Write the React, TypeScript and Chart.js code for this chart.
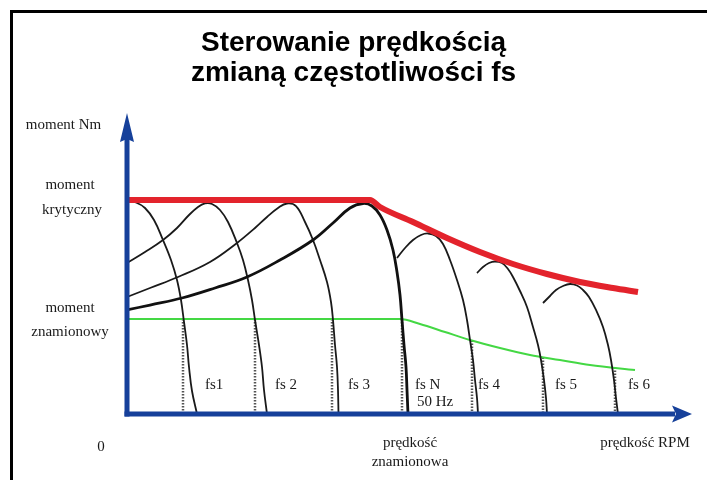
import React, { useEffect, useRef } from 'react';
import { Chart, registerables } from 'chart.js';

Chart.register(...registerables);

// ---------- texts ----------
const TITLE_LINES = ['Sterowanie prędkością', 'zmianą częstotliwości fs'];
const Y_AXIS_TITLE = 'moment Nm';
const BREAKDOWN_LABEL = ['moment', 'krytyczny'];
const RATED_LABEL = ['moment', 'znamionowy'];
const ORIGIN_LABEL = '0';
const RATED_SPEED_LABEL = ['prędkość', 'znamionowa'];
const X_AXIS_TITLE = 'prędkość RPM';
const FREQ_LABELS = ['fs1', 'fs 2', 'fs 3', 'fs N', 'fs 4', 'fs 5', 'fs 6'];
const NOMINAL_FREQ_LABEL = '50 Hz';

// ---------- data (speed and torque in arbitrary axis units) ----------
const breakdownSpeed = [0, 48.6, 50.6, 57.2, 64, 70.6, 77.2, 84, 90.6, 97.2, 102.2];
const breakdownTorque = [71.33, 71.33, 69, 64, 58.67, 54, 50, 46.67, 44, 42, 40.67];

const ratedSpeed = [0, 54.6, 58.6, 63.6, 68.6, 74.6, 80.6, 86.6, 92.6, 101.6];
const ratedTorque = [31.67, 31.67, 30, 27.33, 24.67, 22, 19.67, 18, 16.33, 14.67];

const fs1Speed = [0, 1.8, 3.6, 5.4, 7.2, 8.8, 10, 10.8, 11.4, 12, 12.4, 13, 14];
const fs1Torque = [71, 70.5, 68.67, 64.67, 58, 51.33, 44.67, 38, 30.67, 23, 15.67, 7.67, 0];

const fs2Speed = [0, 3.6, 7.2, 10, 12.4, 14.2, 15.6, 17, 18.6, 20.2, 22, 23.2, 24.2, 25, 25.6, 26.4, 27, 27.4, 28];
const fs2Torque = [50.33, 54, 58, 62, 66.33, 69, 70.17, 70, 68, 64, 57, 51.33, 44.67, 38, 31.33, 23, 15.67, 8, 0];

const fs3Speed = [0, 4.6, 10.2, 16.6, 22, 25.6, 28, 30.2, 32, 33.8, 35.6, 37.2, 38.6, 40, 40.8, 41.2, 41.6, 42, 42.2, 42.3];
const fs3Torque = [39, 42, 45.67, 50.67, 57, 62, 65.67, 68.67, 70.17, 69.33, 64, 58, 51.33, 44, 37.33, 31.33, 23, 15.67, 8, 0];

const fsNSpeed = [0, 4.6, 11, 17.6, 24, 30.6, 37.2, 41.2, 44.6, 47.2, 49, 50.6, 52, 53.2, 54, 54.6, 55, 55.4, 55.8, 56, 56.2];
const fsNTorque = [34.67, 36.33, 38.67, 42, 45.67, 51.33, 58, 63.67, 68.67, 70.17, 69.33, 66.33, 61.33, 54.67, 47.33, 39.67, 31.33, 23, 15.67, 8, 0];

const fs4Speed = [54, 55.6, 57.2, 58.8, 60.2, 61.8, 63.2, 64.6, 66, 67.2, 68, 68.6, 69.2, 69.6, 70, 70.2];
const fs4Torque = [52, 55.33, 58, 59.67, 60.17, 59.33, 56.67, 51.33, 44.67, 38, 31.33, 24.67, 18, 11.33, 5.33, 0];

const fs5Speed = [70, 71.2, 72.4, 73.6, 75, 76.2, 77.2, 78.6, 80, 81.2, 82.2, 82.8, 83.4, 83.8, 84];
const fs5Torque = [47, 49, 50.33, 50.83, 50.33, 48.33, 45.67, 41, 35.67, 29, 23, 18, 11.33, 5.33, 0];

const fs6Speed = [83.2, 84.6, 85.8, 87.2, 88.6, 90, 91.2, 92.4, 93.8, 95.2, 96.2, 96.8, 97.4, 97.8, 98.2];
const fs6Torque = [37, 39.33, 41.33, 42.67, 43.33, 42.83, 41.33, 39, 34.67, 29, 23, 18, 11.33, 5.33, 0];

// rated-torque operating points (where each curve meets the rated torque line)
const operatingSpeed = [11.2, 25.6, 41, 55, 69, 83.2, 97.6];
const operatingTorque = [31.67, 31.67, 31.67, 31.67, 24.5, 18.83, 15.5];

// ---------- layout / style ----------
const W = 707;
const H = 480;
const X_MIN = -25.4;
const X_MAX = 116;
const Y_MAX = 100.3333;
const X_ARROW_END = 113;
const AXIS_COLOR = '#16409a';
const TEXT_COLOR = '#1a1a1a';
const SERIF = '15px "Liberation Serif", "Times New Roman", serif';
const FREQ_LABEL_POS: [number, number][] = [
  [15.6, 9.67], [29.6, 9.67], [44.2, 9.67], [57.6, 9.67], [70.2, 9.67], [85.6, 9.67], [100.2, 9.67],
];
const NOMINAL_FREQ_POS: [number, number] = [58, 4];

const zip = (xs: number[], ys: number[]) => xs.map((x, i) => ({ x, y: ys[i] }));

const line = (xs: number[], ys: number[], color: string, width: number, extra: any = {}) => ({
  data: zip(xs, ys),
  borderColor: color,
  borderWidth: width,
  pointRadius: 0,
  fill: false,
  tension: 0.4,
  ...extra,
});

const overlayPlugin = {
  id: 'overlay',
  beforeDraw(chart: any) {
    const ctx = chart.ctx;
    ctx.save();
    ctx.fillStyle = '#ffffff';
    ctx.fillRect(0, 0, W, H);
    ctx.fillStyle = '#000000';
    ctx.fillRect(10, 10, W - 10, 3);
    ctx.fillRect(10, 10, 3, H - 10);
    ctx.restore();
  },
  afterDatasetsDraw(chart: any) {
    const ctx = chart.ctx;
    const xs = chart.scales.x;
    const ys = chart.scales.y;
    const ox = xs.getPixelForValue(0);
    const oy = ys.getPixelForValue(0);
    const top = ys.getPixelForValue(Y_MAX);
    const xEnd = xs.getPixelForValue(X_ARROW_END);
    ctx.save();
    ctx.fillStyle = AXIS_COLOR;
    // y axis
    ctx.fillRect(ox - 2.5, top + 26, 5, oy + 2.5 - (top + 26));
    ctx.beginPath();
    ctx.moveTo(ox, top);
    ctx.lineTo(ox - 7, top + 29);
    ctx.lineTo(ox, top + 26);
    ctx.lineTo(ox + 7, top + 29);
    ctx.closePath();
    ctx.fill();
    // x axis
    ctx.fillRect(ox - 2.5, oy - 2.5, xEnd - 17 - (ox - 2.5), 5);
    ctx.beginPath();
    ctx.moveTo(xEnd, oy);
    ctx.lineTo(xEnd - 20, oy - 8.5);
    ctx.lineTo(xEnd - 16, oy);
    ctx.lineTo(xEnd - 20, oy + 8.5);
    ctx.closePath();
    ctx.fill();

    // texts
    ctx.fillStyle = TEXT_COLOR;
    ctx.font = SERIF;
    ctx.textBaseline = 'middle';
    ctx.textAlign = 'center';
    ctx.fillText(Y_AXIS_TITLE, 63.5, 125);
    ctx.fillText(BREAKDOWN_LABEL[0], 70, 185);
    ctx.fillText(BREAKDOWN_LABEL[1], 72, 210);
    ctx.fillText(RATED_LABEL[0], 70, 308);
    ctx.fillText(RATED_LABEL[1], 70, 332);
    ctx.fillText(ORIGIN_LABEL, 101, 447);
    ctx.fillText(RATED_SPEED_LABEL[0], 410, 443);
    ctx.fillText(RATED_SPEED_LABEL[1], 410, 462);
    ctx.fillText(X_AXIS_TITLE, 645, 443);

    ctx.textAlign = 'left';
    FREQ_LABELS.forEach((t, i) => {
      const [lx, ly] = FREQ_LABEL_POS[i];
      ctx.fillText(t, xs.getPixelForValue(lx), ys.getPixelForValue(ly));
    });
    ctx.fillText(
      NOMINAL_FREQ_LABEL,
      xs.getPixelForValue(NOMINAL_FREQ_POS[0]),
      ys.getPixelForValue(NOMINAL_FREQ_POS[1])
    );
    ctx.restore();
  },
};

export default function App() {
  const ref = useRef<HTMLCanvasElement | null>(null);

  useEffect(() => {
    if (!ref.current) return;

    const dotted = operatingSpeed.map((x, i) =>
      line([x, x], [operatingTorque[i], 0], '#555555', 2.5, {
        borderDash: [1.5, 1.5],
        tension: 0,
      })
    );

    const datasets: any[] = [
      line(breakdownSpeed, breakdownTorque, '#e3232c', 6, { cubicInterpolationMode: 'monotone' }),
      line(fsNSpeed, fsNTorque, '#111111', 2.8),
      line(fs1Speed, fs1Torque, '#1a1a1a', 1.8),
      line(fs2Speed, fs2Torque, '#1a1a1a', 1.8),
      line(fs3Speed, fs3Torque, '#1a1a1a', 1.8),
      line(fs4Speed, fs4Torque, '#1a1a1a', 1.8),
      line(fs5Speed, fs5Torque, '#1a1a1a', 1.8),
      line(fs6Speed, fs6Torque, '#1a1a1a', 1.8),
      line(ratedSpeed, ratedTorque, '#44d844', 2, { cubicInterpolationMode: 'monotone' }),
      ...dotted,
    ];

    const chart = new Chart(ref.current, {
      type: 'line',
      data: { datasets },
      options: {
        responsive: false,
        animation: false,
        events: [],
        layout: { padding: { top: 12, bottom: 66, left: 0, right: 0 } },
        plugins: {
          legend: { display: false },
          tooltip: { enabled: false },
          title: {
            display: true,
            text: TITLE_LINES,
            color: '#000000',
            font: {
              size: 28,
              weight: 'bold',
              family: '"Liberation Sans", Arial, sans-serif',
              lineHeight: 30 / 28,
            },
            padding: { top: 16, bottom: 25 },
          },
        },
        scales: {
          x: { type: 'linear', min: X_MIN, max: X_MAX, display: false },
          y: { type: 'linear', min: 0, max: Y_MAX, display: false },
        },
      } as any,
      plugins: [overlayPlugin],
    });

    return () => chart.destroy();
  }, []);

  return (
    <div style={{ position: 'absolute', left: 0, top: 0, width: W, height: H }}>
      <canvas ref={ref} width={W} height={H} style={{ display: 'block' }} />
    </div>
  );
}
